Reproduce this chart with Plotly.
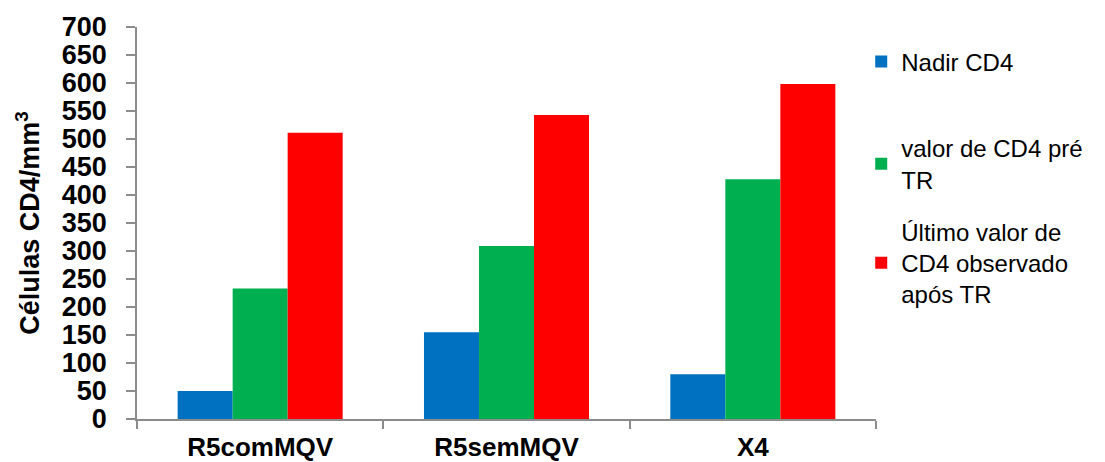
import plotly.graph_objects as go

# Groups and CD4 counts (cells/mm3)
groups = ["R5comMQV", "R5semMQV", "X4"]
nadir_cd4 = [50, 155, 80]
pre_tr_cd4 = [233, 309, 428]
last_cd4 = [511, 543, 598]

series_names = [
    "Nadir CD4",
    "valor de CD4 pré<br>TR",
    "Último valor de<br>CD4 observado<br>após TR",
]
series_values = [nadir_cd4, pre_tr_cd4, last_cd4]
series_colors = ["#0070C0", "#00B050", "#FF0000"]
legend_ids = ["legend", "legend2", "legend3"]

y_ticks = list(range(0, 701, 50))

FONT = "Liberation Sans, Arial, sans-serif"

fig = go.Figure()
for name, vals, color, lg in zip(series_names, series_values, series_colors, legend_ids):
    fig.add_trace(
        go.Bar(
            x=groups,
            y=vals,
            name=name,
            marker=dict(color=color, line=dict(width=0)),
            legend=lg,
            showlegend=True,
        )
    )

legend_style = dict(
    x=0.98,
    xanchor="left",
    yanchor="middle",
    font=dict(family=FONT, size=24, color="#000000"),
    bgcolor="rgba(0,0,0,0)",
    borderwidth=0,
)

W, H = 1105, 462
ml, mr, mt, mb = 137, 229, 27, 43
plot_h = H - mt - mb


def py(pix):
    # pixel row -> paper coordinate
    return (H - mb - pix) / plot_h


fig.update_layout(
    width=W,
    height=H,
    margin=dict(l=ml, r=mr, t=mt, b=mb, pad=0, autoexpand=False),
    paper_bgcolor="white",
    plot_bgcolor="white",
    barmode="group",
    bargap=0.33,
    bargroupgap=0,
    showlegend=True,
    font=dict(family=FONT, color="#000000"),
    legend=dict(legend_style, y=py(62)),
    legend2=dict(legend_style, y=py(164)),
    legend3=dict(legend_style, y=py(263)),
    xaxis=dict(
        automargin=False,
        showline=True,
        linecolor="#8c8c8c",
        linewidth=1.5,
        ticks="outside",
        tickson="boundaries",
        ticklen=8,
        tickcolor="#8c8c8c",
        tickwidth=1.5,
        tickfont=dict(family=FONT, size=26, color="#000000", weight="bold"),
        ticklabelstandoff=4,
        showgrid=False,
        zeroline=False,
        fixedrange=True,
    ),
    yaxis=dict(
        automargin=False,
        range=[0, 700],
        tickvals=y_ticks,
        showline=True,
        linecolor="#8c8c8c",
        linewidth=1.5,
        ticks="outside",
        ticklen=9,
        tickcolor="#8c8c8c",
        tickwidth=1.5,
        tickfont=dict(family=FONT, size=27, color="#000000", weight="bold"),
        ticklabelstandoff=14,
        showgrid=False,
        zeroline=False,
        title=dict(
            text="Células CD4/mm<sup>3</sup>",
            font=dict(family=FONT, size=27, color="#000000", weight="bold"),
            standoff=14,
        ),
        fixedrange=True,
    ),
)

fig.write_html("out.html", config={"displayModeBar": False})
